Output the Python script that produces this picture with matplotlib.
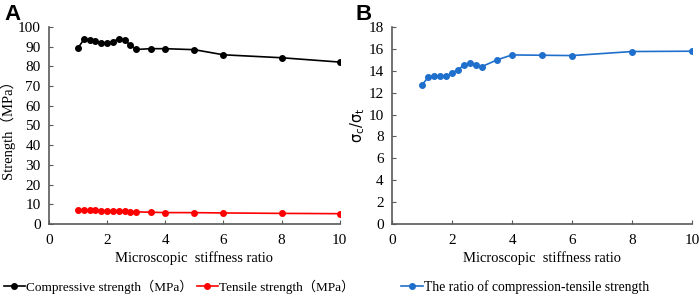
import matplotlib.pyplot as plt

plt.rcParams['font.family'] = ['Liberation Serif', 'Noto Sans CJK SC']
plt.rcParams['mathtext.fontset'] = 'dejavusans'

# microscopic stiffness ratio
ratio_x = [1, 1.2, 1.4, 1.6, 1.8, 2, 2.2, 2.4, 2.6, 2.8, 3, 3.5, 4, 5, 6, 8, 10]
compressive = [89.3, 93.7, 93.4, 93.1, 91.7, 92.0, 92.5, 94.1, 93.4, 90.8, 88.6,
               89.0, 89.0, 88.5, 85.9, 84.4, 82.2]
tensile = [7.0, 7.0, 6.93, 6.91, 6.8, 6.66, 6.56, 6.47, 6.37, 6.25, 6.16,
           5.93, 5.76, 5.74, 5.58, 5.36, 5.21]
ct_ratio = [12.73, 13.39, 13.48, 13.48, 13.48, 13.82, 14.09, 14.55, 14.67, 14.52,
            14.39, 15.0, 15.45, 15.42, 15.39, 15.76, 15.79]

spine_col = '#595959'

fig = plt.figure(figsize=(6.99, 2.97), dpi=100)
axA = fig.add_axes([0.070, 0.246, 0.416, 0.663])
axB = fig.add_axes([0.561, 0.246, 0.429, 0.663])


def style(ax):
    for s in ['top', 'right']:
        ax.spines[s].set_visible(False)
    for s in ['left', 'bottom']:
        ax.spines[s].set_color(spine_col)
        ax.spines[s].set_linewidth(1.2)
    ax.tick_params(direction='in', length=3, color=spine_col, labelsize=11)
    ax.tick_params(axis='x', pad=7)
    ax.tick_params(axis='y', pad=6)
    ax.set_xlim(0, 10)
    ax.set_xticks([0, 2, 4, 6, 8, 10])
    ax.set_xlabel('Microscopic  stiffness ratio', fontsize=10.5, labelpad=3)


l1, = axA.plot(ratio_x, compressive, color='black', marker='o', markersize=4, lw=1.2)
l2, = axA.plot(ratio_x, tensile, color='#ff0000', marker='o', markersize=4, lw=1.2)
style(axA)
axA.set_ylim(0, 100)
axA.set_yticks(range(0, 101, 10))
axA.set_ylabel('Strength（MPa）', fontsize=10.5, labelpad=2)

l3, = axB.plot(ratio_x, ct_ratio, color='#1f6fcc', marker='o', markersize=4, lw=1.2)
style(axB)
axB.set_ylim(0, 18)
axB.set_yticks(range(0, 19, 2))
axB.set_ylabel(r'σ$_\mathrm{c}$/σ$_\mathrm{t}$', fontsize=10.5, labelpad=1,
               family='DejaVu Sans')

fig.legend([l1, l2], ['Compressive strength（MPa）', 'Tensile strength（MPa）'],
           loc='center', bbox_to_anchor=(0.256, 0.034), ncol=2, frameon=False,
           fontsize=9.5, handlelength=1.6, handletextpad=0.1, columnspacing=0.3)
fig.legend([l3], ['The ratio of compression-tensile strength'],
           loc='center', bbox_to_anchor=(0.751, 0.034), frameon=False,
           fontsize=9.8, handlelength=1.6, handletextpad=0.1)

fig.text(0.006, 0.985, 'A', fontsize=16, fontweight='bold', family='Liberation Sans', va='top')
fig.text(0.508, 0.985, 'B', fontsize=16, fontweight='bold', family='Liberation Sans', va='top')

fig.savefig('out.png', dpi=100)
